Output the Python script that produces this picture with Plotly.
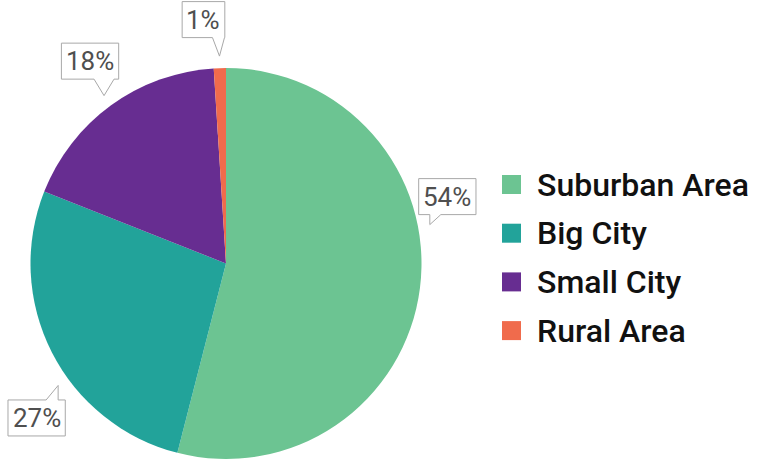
import math
import plotly.graph_objects as go

# Share of respondents by type of place they live in
categories = ["Suburban Area", "Big City", "Small City", "Rural Area"]
values = [54, 27, 18, 1]
colors = ["#6cc492", "#22a39a", "#672d91", "#f06b4c"]

W, H = 766, 459

# pie geometry in pixels (top-left origin)
CX = 226.0
PIE_TOP = 68.0
R = (H - PIE_TOP) / 2.0
CY = PIE_TOP + R


def px(x):
    return x / W


def py(y):
    return 1 - y / H


fig = go.Figure()
fig.add_trace(go.Pie(
    labels=categories,
    values=values,
    marker=dict(colors=colors, line=dict(width=0)),
    sort=False,
    direction="clockwise",
    rotation=0,
    textinfo="none",
    hoverinfo="label+percent",
    showlegend=False,
    domain=dict(x=[px(CX - R), px(CX + R)], y=[0, py(PIE_TOP)]),
))

# callout label placement for each slice: angular nudge, box offset from the tip,
# side of the box the pointer leaves from, and pointer base relative to the tip
callouts = [
    dict(nudge=-18, dx=17.5, dy=-28.0, side="bottom", base=(0, 11)),
    dict(nudge=-9, dx=-21.5, dy=32.5, side="top", base=(-12, 0)),
    dict(nudge=0, dx=-14.0, dy=-34.5, side="bottom", base=(-10, 10)),
    dict(nudge=0, dx=-16.0, dy=-36.5, side="bottom", base=(-7, 5)),
]

LABEL_SIZE = 26
BOX_H = 36
TIP_GAP = 12

total = sum(values)
shapes = []
annotations = []
cum = 0.0
for val, cfg in zip(values, callouts):
    mid = (cum + val / 2) / total * 360.0
    cum += val
    ang = math.radians(mid + cfg["nudge"])
    d = R + TIP_GAP
    tx = CX + d * math.sin(ang)
    ty = CY - d * math.cos(ang)

    text = f"{round(val / total * 100)}%"
    n_digits = len(text) - 1
    text_w = n_digits * 0.562 * LABEL_SIZE + 0.733 * LABEL_SIZE
    box_w = text_w + 9

    bx = tx + cfg["dx"]
    by = ty + cfg["dy"]
    x0, x1 = bx - box_w / 2, bx + box_w / 2
    y0, y1 = by - BOX_H / 2, by + BOX_H / 2
    b0, b1 = tx + cfg["base"][0], tx + cfg["base"][1]

    if cfg["side"] == "bottom":
        pts = [(x0, y0), (x1, y0), (x1, y1), (b1, y1), (tx, ty), (b0, y1), (x0, y1)]
    else:
        pts = [(x0, y0), (b0, y0), (tx, ty), (b1, y0), (x1, y0), (x1, y1), (x0, y1)]

    path = "M " + " L ".join(f"{px(a):.5f},{py(b):.5f}" for a, b in pts) + " Z"
    shapes.append(dict(
        type="path", xref="paper", yref="paper", path=path,
        fillcolor="white", line=dict(color="#a8a8a8", width=1), layer="above",
    ))
    annotations.append(dict(
        x=px(bx), y=py(by), xref="paper", yref="paper",
        text=text, showarrow=False, xanchor="center", yanchor="middle",
        font=dict(family="Roboto", size=LABEL_SIZE, color="#4f4f4f"),
    ))

# legend: colour swatches with category names
LEG_X = 502
SW = 19
LEG_Y0 = 184.5
LEG_STEP = 48.7
for i, (cat, col) in enumerate(zip(categories, colors)):
    yc = LEG_Y0 + i * LEG_STEP
    shapes.append(dict(
        type="rect", xref="paper", yref="paper",
        x0=px(LEG_X), x1=px(LEG_X + SW), y0=py(yc + SW / 2), y1=py(yc - SW / 2),
        fillcolor=col, line=dict(width=0),
    ))
    annotations.append(dict(
        x=px(535), y=py(yc), xref="paper", yref="paper",
        text=cat, showarrow=False, xanchor="left", yanchor="middle",
        font=dict(family="Roboto", size=32, color="#111111", weight=500),
    ))

fig.update_layout(
    width=W, height=H,
    margin=dict(l=0, r=0, t=0, b=0),
    paper_bgcolor="white",
    plot_bgcolor="white",
    shapes=shapes,
    annotations=annotations,
    showlegend=False,
)

fig.write_html("out.html")
